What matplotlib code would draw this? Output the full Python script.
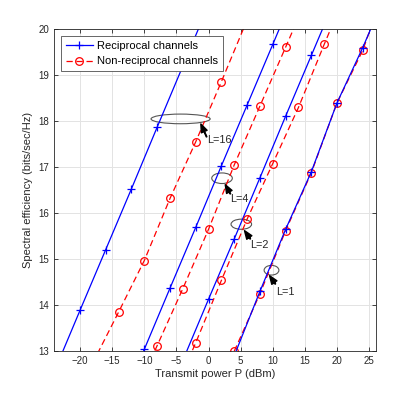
import numpy as np
import matplotlib.pyplot as plt
from matplotlib.patches import Ellipse

plt.rcParams['font.family'] = ['Liberation Sans', 'DejaVu Sans']

# transmit power (dBm) and spectral efficiency
x_rec_16 = [-24, -20, -16, -12, -8, -4, 0]
y_rec_16 = [12.56, 13.89, 15.21, 16.53, 17.87, 19.20, 20.53]
x_non_16 = [-18, -14, -10, -6, -2, 2, 6]
y_non_16 = [12.75, 13.85, 14.97, 16.32, 17.55, 18.86, 20.20]

x_rec_4 = [-14, -10, -6, -2, 2, 6, 10, 14]
y_rec_4 = [11.70, 13.04, 14.37, 15.69, 17.03, 18.35, 19.67, 21.00]
x_non_4 = [-12, -8, -4, 0, 4, 8, 12, 16]
y_non_4 = [11.90, 13.12, 14.36, 15.65, 17.05, 18.33, 19.61, 20.90]

x_rec_2 = [-4, 0, 4, 8, 12, 16, 20]
y_rec_2 = [12.80, 14.13, 15.44, 16.77, 18.11, 19.43, 20.75]
x_non_2 = [-6, -2, 2, 6, 10, 14, 18, 22]
y_non_2 = [11.90, 13.18, 14.54, 15.87, 17.08, 18.30, 19.67, 21.00]

x_rec_1 = [4, 8, 12, 16, 20, 24, 28]
y_rec_1 = [12.90, 14.30, 15.65, 16.90, 18.40, 19.60, 20.90]
x_non_1 = [4, 8, 12, 16, 20, 24, 28]
y_non_1 = [13.00, 14.25, 15.62, 16.88, 18.40, 19.54, 21.10]

fig = plt.figure(figsize=(4.15, 3.95), dpi=100)
ax = fig.add_axes([0.131, 0.111, 0.774, 0.815])

rec_kw = dict(color=(0, 0, 1), linestyle='-', linewidth=0.9, marker='+',
              markersize=6, markeredgewidth=0.9)
non_kw = dict(color=(1, 0, 0), linestyle='--', linewidth=0.9, marker='o',
              markersize=5.5, markerfacecolor='none', markeredgewidth=0.9,
              dashes=(5, 3))

ax.plot(x_rec_16, y_rec_16, markevery=slice(1, 5), label='Reciprocal channels', **rec_kw)
ax.plot(x_non_16, y_non_16, markevery=slice(1, 6), label='Non-reciprocal channels', **non_kw)
ax.plot(x_rec_4, y_rec_4, markevery=slice(1, 7), **rec_kw)
ax.plot(x_non_4, y_non_4, markevery=slice(1, 7), **non_kw)
ax.plot(x_rec_2, y_rec_2, markevery=slice(1, 6), **rec_kw)
ax.plot(x_non_2, y_non_2, markevery=slice(1, 7), **non_kw)
ax.plot(x_non_1, y_non_1, markevery=slice(0, 6), **non_kw)
ax.plot(x_rec_1, y_rec_1, markevery=slice(1, 6), **rec_kw)

ax.set_xlim(-24, 26)
ax.set_ylim(13, 20)
ax.set_xticks(np.arange(-20, 26, 5))
ax.set_yticks(np.arange(13, 21, 1))
ax.grid(True, color='#e3e3e3', linewidth=0.7)
ax.set_axisbelow(True)
ax.tick_params(direction='in', top=True, right=True, labelsize=7,
               colors='#262626', length=3, width=0.6)
for s in ax.spines.values():
    s.set_color('#262626')
    s.set_linewidth(0.6)
ax.set_xlabel('Transmit power P (dBm)', fontsize=8, color='#262626', labelpad=2)
ax.set_ylabel('Spectral efficiency (bits/sec/Hz)', fontsize=8, color='#262626', labelpad=4)

leg = ax.legend(loc='upper left', fontsize=8.0, frameon=True, fancybox=False,
                borderaxespad=0.6, handlelength=2.4, borderpad=0.45,
                labelspacing=0.5, handletextpad=0.35)
leg.get_frame().set_edgecolor('#4d4d4d')
leg.get_frame().set_linewidth(0.6)
leg.get_frame().set_alpha(1)

# ellipses and labels for L
groups = [
    ((-4.35, 18.05), 9.2, 0.21, (-1.2, 17.94), (-0.3, 17.66), (-0.2, 17.59), 'L=16'),
    ((2.1, 16.76), 3.2, 0.23, (2.6, 16.62), (3.4, 16.42), (3.4, 16.30), 'L=4'),
    ((5.1, 15.76), 3.2, 0.22, (5.6, 15.62), (6.5, 15.44), (6.5, 15.31), 'L=2'),
    ((9.8, 14.76), 2.3, 0.21, (9.5, 14.64), (10.4, 14.46), (10.55, 14.29), 'L=1'),
]
for c, w, h, tip, tail, tpos, lab in groups:
    ax.add_patch(Ellipse(c, w, h, fill=False, edgecolor='#555555', linewidth=0.8))
    ax.annotate('', xy=tip, xytext=tail,
                arrowprops=dict(facecolor='black', edgecolor='black', width=0.4,
                                headwidth=4.5, headlength=6, shrink=0))
    ax.text(tpos[0], tpos[1], lab, fontsize=7.8, color='#262626', ha='left', va='center')

fig.savefig('out.png', dpi=100)
